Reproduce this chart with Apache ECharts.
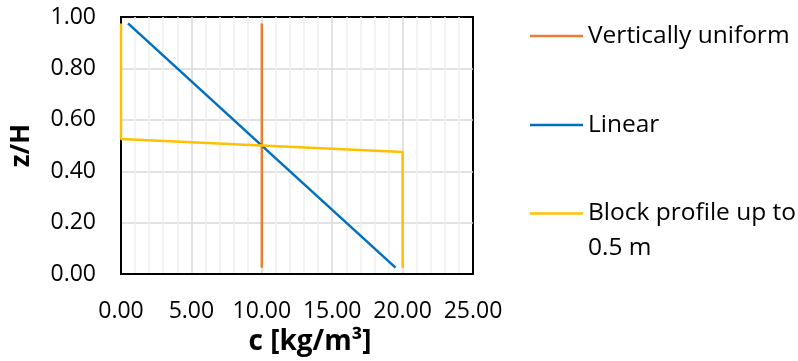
<!DOCTYPE html>
<html>
<head>
<meta charset="utf-8">
<style>html,body{margin:0;padding:0;background:#fff}#c{width:798px;height:361px}</style>
<script src="https://cdn.jsdelivr.net/npm/echarts@6/dist/echarts.min.js"></script>
</head>
<body>
<div id="c"></div>
<script>
// Data: [c (kg/m3), z/H]
var uniformData = [[10, 0.025], [10, 0.975]];
var linearData = [[0.5, 0.975], [10, 0.5], [19.5, 0.025]];
var blockData = [[0, 0.975], [0, 0.525], [20, 0.475], [20, 0.025]];
var seriesNames = ['Vertically uniform', 'Linear', 'Block profile up to\n0.5 m'];
var seriesColors = ['#ED7D31', '#0070C0', '#FFC000'];
var xTicks = {min: 0, max: 25, interval: 5};
var yTicks = {min: 0, max: 1, interval: 0.2};

var FONT = 'Open Sans';
var chart = echarts.init(document.getElementById('c'), null, {renderer: 'canvas'});

function legendAt(name, top, lh, fmt) {
  var l = {
    data: [name], orient: 'vertical', left: 530, top: top,
    icon: 'rect', itemWidth: 53, itemHeight: 2.5, padding: 0,
    textStyle: {fontFamily: FONT, fontSize: 24.5, color: '#000', lineHeight: lh},
    selectedMode: false
  };
  if (fmt) l.formatter = fmt;
  return l;
}

var option = {
  animation: false,
  backgroundColor: '#fff',
  grid: {left: 121, top: 17, right: 325, bottom: 86, show: true, borderColor: '#000', borderWidth: 2, containLabel: false},
  legend: [
    legendAt(seriesNames[0], 22, 28),
    legendAt(seriesNames[1], 111, 28),
    legendAt(seriesNames[2], 161, 35, function (n) { return '\n' + n; })
  ],
  xAxis: {
    type: 'value', min: xTicks.min, max: xTicks.max, interval: xTicks.interval,
    name: 'c [kg/m³]', nameLocation: 'middle', nameGap: 53,
    nameTextStyle: {fontFamily: FONT, fontSize: 28, fontWeight: 'bold', color: '#000', padding: [0, 0, 0, 26]},
    axisLine: {show: true, lineStyle: {color: '#000', width: 2}},
    axisTick: {show: false},
    axisLabel: {fontFamily: FONT, fontSize: 23, color: '#000', margin: 26, formatter: function (v) { return v.toFixed(2); }},
    splitLine: {show: true, showMinLine: false, showMaxLine: false, lineStyle: {color: '#d9d9d9', width: 1.5}},
    minorTick: {show: false, splitNumber: 5},
    minorSplitLine: {show: true, lineStyle: {color: '#f0f0f0', width: 1.5}}
  },
  yAxis: {
    type: 'value', min: yTicks.min, max: yTicks.max, interval: yTicks.interval,
    name: 'z/H', nameLocation: 'middle', nameGap: 86,
    nameTextStyle: {fontFamily: FONT, fontSize: 26, fontWeight: 'bold', color: '#000'},
    axisLine: {show: true, lineStyle: {color: '#000', width: 2}},
    axisTick: {show: false},
    axisLabel: {fontFamily: FONT, fontSize: 23, color: '#000', margin: 25, formatter: function (v) { return v.toFixed(2); }},
    splitLine: {show: true, showMinLine: false, showMaxLine: false, lineStyle: {color: '#d9d9d9', width: 1.5}}
  },
  series: [
    {name: seriesNames[0], type: 'line', data: uniformData, symbol: 'none', lineStyle: {color: seriesColors[0], width: 2.5}, itemStyle: {color: seriesColors[0]}},
    {name: seriesNames[1], type: 'line', data: linearData, symbol: 'none', lineStyle: {color: seriesColors[1], width: 2.5}, itemStyle: {color: seriesColors[1]}},
    {name: seriesNames[2], type: 'line', data: blockData, symbol: 'none', lineStyle: {color: seriesColors[2], width: 2.5}, itemStyle: {color: seriesColors[2]}}
  ]
};
chart.setOption(option);
</script>
</body>
</html>
